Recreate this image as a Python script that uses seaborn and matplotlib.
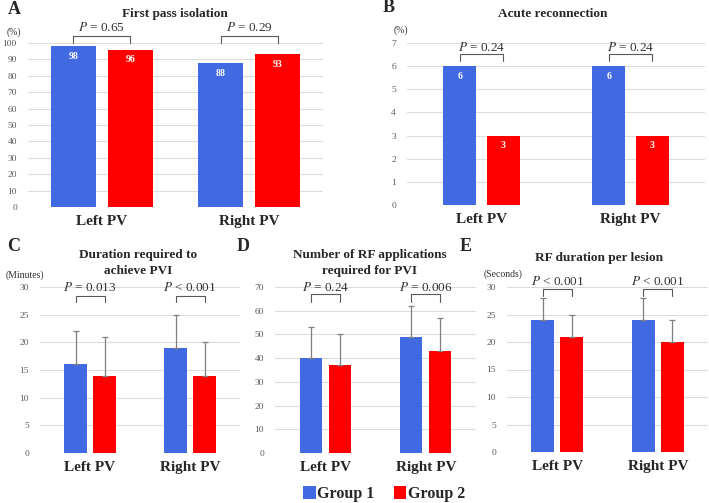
import numpy as np
import pandas as pd
import matplotlib
matplotlib.use("Agg")
import matplotlib.pyplot as plt
from matplotlib.patches import Patch
import seaborn as sns

sns.set_theme(style="white")
plt.rcParams['font.family'] = ['Liberation Serif', 'DejaVu Serif']
plt.rcParams['mathtext.fontset'] = 'stix'

regions = ["Left PV", "Right PV"]
groups = ["Group 1", "Group 2"]

# A: first pass isolation (%)
a_g1 = [98, 88]
a_g2 = [96, 93]
a_p = ["0.65", "0.29"]
# B: acute reconnection (%)
b_g1 = [6, 6]
b_g2 = [3, 3]
b_p = ["0.24", "0.24"]
# C: duration (min) mean and SD
c_g1 = [16, 19]
c_g2 = [14, 14]
c_sd1 = [6, 6]
c_sd2 = [7, 6]
c_p = ["= 0.013", "< 0.001"]
# D: number of RF applications
d_g1 = [40, 49]
d_g2 = [37, 43]
d_sd1 = [13, 13]
d_sd2 = [13, 14]
d_p = ["= 0.24", "= 0.006"]
# E: RF duration per lesion (s)
e_g1 = [24, 24]
e_g2 = [21, 20]
e_sd1 = [4, 4]
e_sd2 = [4, 4]
e_p = ["< 0.001", "< 0.001"]

BLUE = "#4169E1"
RED = "#FF0000"
palette = {"Group 1": BLUE, "Group 2": RED}

W, H = 709, 503
fig = plt.figure(figsize=(W / 100, H / 100), dpi=100)


def ax_px(l, t, r, b):
    return fig.add_axes([l / W, 1 - b / H, (r - l) / W, (b - t) / H])


def ftext(x, y, s, **kw):
    fig.text(x / W, 1 - y / H, s, **kw)


def make_df(g1, g2):
    return pd.DataFrame({
        "region": regions * 2,
        "group": [groups[0]] * 2 + [groups[1]] * 2,
        "value": list(g1) + list(g2),
    })


def draw(ax, g1, g2, ymax, step, width, gap, sd1=None, sd2=None,
         labels=False, pvals=None, bracket=None):
    df = make_df(g1, g2)
    sns.barplot(data=df, x="region", y="value", hue="group", palette=palette,
                order=regions, hue_order=groups, width=width, gap=gap,
                errorbar=None, saturation=1, ax=ax, legend=False,
                edgecolor="none", zorder=3)
    ax.set_xlim(-0.5, 1.5)
    ax.set_ylim(0, ymax)
    ax.set_yticks(np.arange(0, ymax + step / 2, step))
    ax.yaxis.grid(True, color="#dcdcdc", lw=0.8, zorder=0)
    ax.set_axisbelow(True)
    for s in ax.spines.values():
        s.set_visible(False)
    ax.tick_params(axis="y", length=0, labelsize=6.8, labelcolor="#595959", pad=8)
    ax.tick_params(axis="x", length=0, labelsize=11, pad=6)
    for t in ax.get_xticklabels():
        t.set_fontweight("bold")
    ax.set_xlabel("")
    ax.set_ylabel("")
    bars = list(ax.patches)
    b1 = bars[0:2]
    b2 = bars[2:4]
    if sd1 is not None:
        for bars_, vals, sds in ((b1, g1, sd1), (b2, g2, sd2)):
            xs = [b.get_x() + b.get_width() / 2 for b in bars_]
            ax.errorbar(xs, vals, yerr=[[0] * len(vals), sds], fmt="none",
                        ecolor="#7f7f7f", elinewidth=0.9, capsize=2.2,
                        capthick=0.9, zorder=4)
    if labels:
        for bars_, vals in ((b1, g1), (b2, g2)):
            for b, v in zip(bars_, vals):
                ax.annotate(f"{v}", (b.get_x() + b.get_width() / 2, v),
                            xytext=(0, -7.5), textcoords="offset points",
                            ha="center", va="center", color="white",
                            fontsize=7, fontweight="bold", zorder=5)
    if pvals is not None:
        top, leg, ty = bracket
        for i in range(2):
            x1 = b1[i].get_x() + b1[i].get_width() / 2
            x2 = b2[i].get_x() + b2[i].get_width() / 2
            ax.plot([x1, x1, x2, x2], [leg, top, top, leg], color="#595959",
                    lw=0.8, clip_on=False, zorder=5)
            ax.text((x1 + x2) / 2, ty, pvals[i], ha="center", va="center",
                    fontsize=9.5, color="#333333", clip_on=False)
    return ax


# Panel A
axA = ax_px(28, 43, 323, 207)
draw(axA, a_g1, a_g2, 100, 10, 0.77, 0.21, labels=True,
     pvals=[f"$P$ = {p}" for p in a_p], bracket=(104.5, 100, 109.5))
# Panel B
axB = ax_px(407, 43, 705, 205)
draw(axB, b_g1, b_g2, 7, 1, 0.58, 0.235, labels=True,
     pvals=[f"$P$ = {p}" for p in b_p], bracket=(6.52, 6.22, 6.82))
# Panel C
axC = ax_px(40, 287, 240, 453)
draw(axC, c_g1, c_g2, 30, 5, 0.58, 0.21, sd1=c_sd1, sd2=c_sd2,
     pvals=[f"$P$ {p}" for p in c_p], bracket=(28.4, 27.2, 29.9))
# Panel D
axD = ax_px(275, 287, 476, 453)
draw(axD, d_g1, d_g2, 70, 10, 0.575, 0.23, sd1=d_sd1, sd2=d_sd2,
     pvals=[f"$P$ {p}" for p in d_p], bracket=(67.0, 63.6, 69.8))
# Panel E
axE = ax_px(507, 287, 708, 452)
draw(axE, e_g1, e_g2, 30, 5, 0.58, 0.22, sd1=e_sd1, sd2=e_sd2,
     pvals=[f"$P$ {p}" for p in e_p], bracket=(29.6, 28.3, 31.0))

# Panel letters
for s, x, y in (("A", 14, 10), ("B", 389, 8), ("C", 14, 247), ("D", 243, 247), ("E", 466, 247)):
    ftext(x, y, s, fontsize=13, fontweight="bold", ha="center", va="center")

# Panel titles
tkw = dict(fontsize=9.5, fontweight="bold", ha="center", va="center")
ftext(175, 14, "First pass isolation", **tkw)
ftext(553, 14, "Acute reconnection", **tkw)
ftext(138, 255, "Duration required to", **tkw)
ftext(138, 271, "achieve PVI", **tkw)
ftext(370, 255, "Number of RF applications", **tkw)
ftext(370, 271, "required for PVI", **tkw)
ftext(599, 258, "RF duration per lesion", **tkw)

# Units
ukw = dict(fontsize=7, color="#333333", ha="center", va="center")
ftext(14, 32, "(%)", **ukw)
ftext(401, 30, "(%)", **ukw)
ftext(25, 275, "(Minutes)", **ukw)
ftext(503, 274, "(Seconds)", **ukw)

# Legend
handles = [Patch(facecolor=palette[g], edgecolor="none", label=g) for g in groups]
fig.legend(handles=handles, loc="center", bbox_to_anchor=(384 / W, 1 - 494 / H),
           ncol=2, frameon=False, handlelength=0.8, handleheight=0.8,
           handletextpad=0.1, columnspacing=1.2,
           prop={"size": 11.5, "weight": "bold"})

fig.savefig("out.png", dpi=100)
